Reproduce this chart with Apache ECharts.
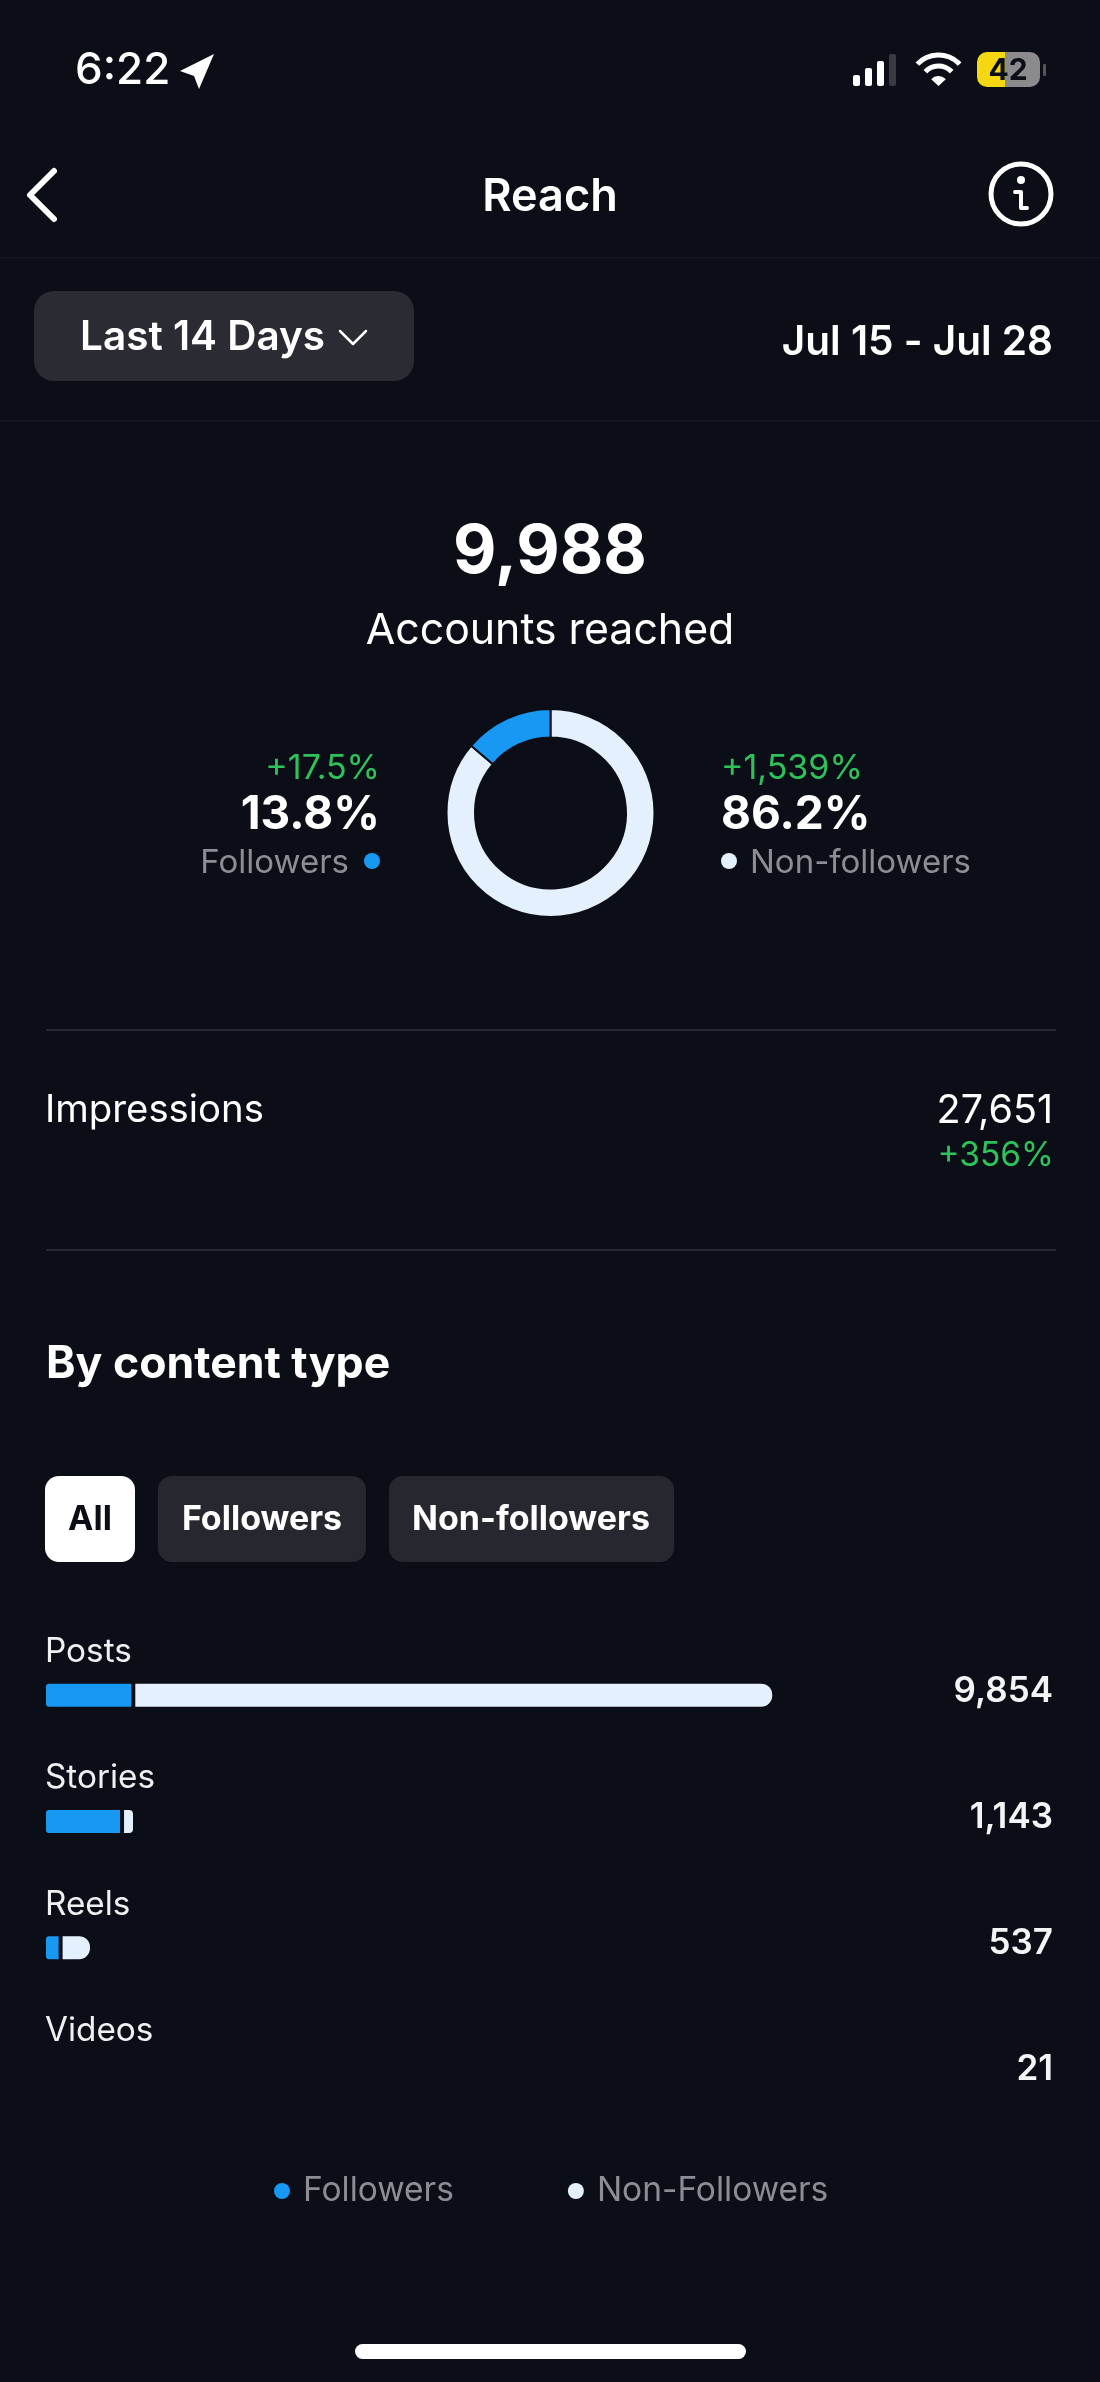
<!DOCTYPE html>
<html>
<head>
<meta charset="utf-8">
<title>Reach</title>
<script src="https://cdn.jsdelivr.net/npm/echarts@6/dist/echarts.min.js"></script>
<style>
html, body { margin: 0; padding: 0; background: #0c0e17; }
#main { width: 1100px; height: 2382px; }
</style>
</head>
<body>
<div id="main"></div>
<script>
// data
var categories = ['Posts', 'Stories', 'Reels', 'Videos'];
var totals = [9854, 1143, 537, 21];
var followers = [1205, 1053, 224, 0];
var nonFollowers = [8649, 175, 424, 0];
var shareNames = ['Non-followers', 'Followers'];
var shareValues = [86.2, 13.8];

var BG = '#0c0e17';
var BLUE = '#1799f3';
var LIGHT = '#e4f0fd';
var GREY = '#8c8e96';
var GREEN = '#2fc25b';
var FONT = 'Inter, "Noto Sans", sans-serif';
var END_RADIUS = [12, 5, 12, 0];

function txt(text, x, y, size, weight, fill, align) {
	return {
		type: 'text',
		silent: true,
		style: {
			text: text,
			x: x,
			y: y + 2,
			fill: fill || '#fff',
			font: (weight || 400) + ' ' + size + 'px ' + FONT,
			textAlign: align || 'left',
			textVerticalAlign: 'middle'
		}
	};
}

function box(x, y, w, h, r, fill) {
	return {
		type: 'rect',
		silent: true,
		shape: { x: x, y: y, width: w, height: h, r: r },
		style: { fill: fill }
	};
}

function hline(x1, x2, y, color) {
	return {
		type: 'line',
		silent: true,
		shape: { x1: x1, y1: y, x2: x2, y2: y },
		style: { stroke: color, lineWidth: 2 }
	};
}

function poly(points, color, width) {
	return {
		type: 'polyline',
		silent: true,
		shape: { points: points },
		style: { stroke: color, fill: null, lineWidth: width, lineCap: 'round', lineJoin: 'round' }
	};
}

function wifiArc(r) {
	return {
		type: 'arc',
		silent: true,
		shape: { cx: 938.5, cy: 84, r: r, startAngle: -Math.PI * 0.76, endAngle: -Math.PI * 0.24, clockwise: true },
		style: { stroke: '#fff', fill: null, lineWidth: 5 }
	};
}

var elements = [
	// status bar
	txt('6:22', 75, 69, 44, 500),
	{
		type: 'polygon',
		silent: true,
		shape: { points: [[214, 54], [180, 71], [194, 76], [199, 89]] },
		style: { fill: '#fff' }
	},
	box(853, 75, 7, 11, 2, '#fff'),
	box(865, 68, 7, 18, 2, '#fff'),
	box(877, 61, 7, 25, 2, '#fff'),
	box(889, 54, 7, 32, 2, '#3a3b42'),
	wifiArc(29),
	wifiArc(18),
	{
		type: 'sector',
		silent: true,
		shape: { cx: 938.5, cy: 86, r: 10, r0: 0, startAngle: -Math.PI * 0.76, endAngle: -Math.PI * 0.24 },
		style: { fill: '#fff' }
	},
	box(977, 52, 36, 35, [10, 0, 0, 10], '#f6d812'),
	box(1005, 52, 35, 35, [0, 10, 10, 0], '#8b8b8e'),
	box(1043, 64, 3, 12, 1, '#55565c'),
	txt('42', 1008, 69, 30, 700, '#0c0e17', 'center'),

	// nav bar
	poly([[54, 171], [30, 195], [54, 219]], '#fff', 6),
	txt('Reach', 550, 195, 45, 600, '#fff', 'center'),
	{
		type: 'circle',
		silent: true,
		shape: { cx: 1021, cy: 194, r: 30 },
		style: { stroke: '#fff', fill: null, lineWidth: 5 }
	},
	{
		type: 'circle',
		silent: true,
		shape: { cx: 1021, cy: 180, r: 4 },
		style: { fill: '#fff' }
	},
	poly([[1015, 192], [1021, 192], [1021, 208], [1027, 208]], '#fff', 4),
	hline(0, 1100, 258, '#14161f'),

	// range selector
	box(34, 291, 380, 90, 20, '#2a2b33'),
	txt('Last 14 Days', 80, 336, 40.5, 600),
	poly([[340, 331], [353, 344], [366, 331]], '#fff', 2.5),
	txt('Jul 15 - Jul 28', 1053, 341, 40.5, 600, '#fff', 'right'),
	hline(0, 1100, 421, '#14161f'),

	// accounts reached
	txt('9,988', 550, 551, 67, 700, '#fff', 'center'),
	txt('Accounts reached', 550, 629, 42.8, 400, '#fff', 'center'),
	txt('+17.5%', 380, 767, 34, 400, GREEN, 'right'),
	txt('13.8%', 380, 813, 46, 700, '#fff', 'right'),
	txt('Followers', 349, 861, 33, 400, GREY, 'right'),
	{
		type: 'circle',
		silent: true,
		shape: { cx: 372, cy: 861, r: 8 },
		style: { fill: BLUE }
	},
	txt('+1,539%', 721, 767, 34, 400, GREEN),
	txt('86.2%', 721, 813, 46, 700),
	{
		type: 'circle',
		silent: true,
		shape: { cx: 729, cy: 861, r: 8 },
		style: { fill: LIGHT }
	},
	txt('Non-followers', 750, 861, 33, 400, GREY),
	hline(46, 1056, 1030, '#262832'),

	// impressions
	txt('Impressions', 45, 1108, 38.3, 400),
	txt('27,651', 1053, 1109, 39.5, 400, '#fff', 'right'),
	txt('+356%', 1054, 1154, 33.5, 400, GREEN, 'right'),
	hline(46, 1056, 1250, '#262832'),

	// by content type
	txt('By content type', 46, 1363, 44.6, 700),
	box(45, 1476, 90, 86, 14, '#fff'),
	txt('All', 90, 1518, 34, 700, '#0c0e17', 'center'),
	box(158, 1476, 208, 86, 14, '#26272f'),
	txt('Followers', 262, 1518, 34, 700, '#fff', 'center'),
	box(389, 1476, 285, 86, 14, '#26272f'),
	txt('Non-followers', 531, 1518, 34, 700, '#fff', 'center'),

	// home indicator
	box(355, 2344, 391, 15, 8, '#fff')
];

var myChart = echarts.init(document.getElementById('main'));

var option = {
	backgroundColor: BG,
	animation: false,
	textStyle: { fontFamily: FONT },
	graphic: { elements: elements },
	legend: {
		left: 269,
		top: 2169,
		data: ['Followers', 'Non-Followers'],
		icon: 'circle',
		itemWidth: 16,
		itemHeight: 16,
		itemGap: 114,
		itemStyle: { borderWidth: 0 },
		textStyle: { color: GREY, fontSize: 33.5, fontFamily: FONT, padding: [0, 0, 0, 8] }
	},
	grid: { left: 44, right: 47, top: 1632, height: 505 },
	xAxis: { type: 'value', min: 0, max: 13616, show: false },
	yAxis: [{
		type: 'category',
		inverse: true,
		data: categories,
		axisLine: { show: false },
		axisTick: { show: false },
		axisLabel: {
			inside: true,
			margin: 1,
			color: '#f0f0f2',
			fontSize: 33.3,
			fontFamily: FONT,
			verticalAlign: 'bottom',
			lineHeight: 86
		}
	}, {
		type: 'category',
		inverse: true,
		position: 'right',
		data: totals.map(function(v) { return v.toLocaleString('en-US'); }),
		axisLine: { show: false },
		axisTick: { show: false },
		axisLabel: {
			inside: true,
			margin: 0,
			color: '#f4f4f6',
			fontSize: 35,
			fontWeight: 600,
			fontFamily: FONT,
			verticalAlign: 'bottom',
			lineHeight: 8
		}
	}],
	series: [{
		name: 'Followers',
		type: 'bar',
		stack: 'reach',
		barWidth: 27,
		data: followers,
		itemStyle: { color: BLUE, borderColor: BG, borderWidth: 2, borderRadius: [4, 0, 0, 4] }
	}, {
		name: 'Non-Followers',
		type: 'bar',
		stack: 'reach',
		barWidth: 27,
		data: nonFollowers.map(function(v, i) {
			return { value: v, itemStyle: { borderRadius: [0, END_RADIUS[i], END_RADIUS[i], 0] } };
		}),
		itemStyle: { color: LIGHT, borderColor: BG, borderWidth: 2 }
	}, {
		name: 'Share',
		type: 'pie',
		center: [550.5, 813],
		radius: [75.5, 104],
		startAngle: 90,
		silent: true,
		label: { show: false },
		labelLine: { show: false },
		data: [
			{ name: shareNames[0], value: shareValues[0], itemStyle: { color: LIGHT } },
			{ name: shareNames[1], value: shareValues[1], itemStyle: { color: BLUE } }
		],
		itemStyle: { borderColor: BG, borderWidth: 2 }
	}]
};

myChart.setOption(option);
</script>
</body>
</html>
